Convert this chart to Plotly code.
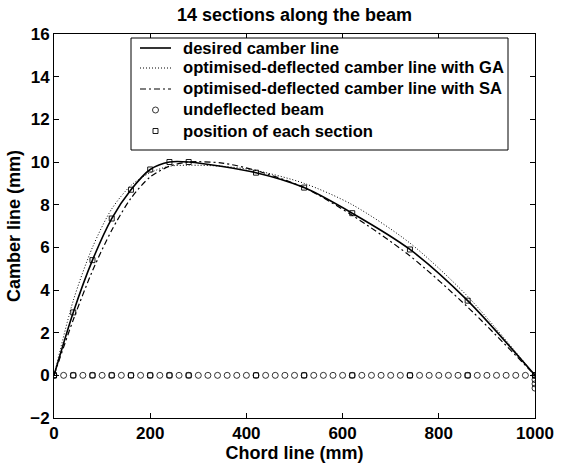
import plotly.graph_objects as go

# Section positions along chord (mm) and desired camber (mm)
section_x = [0, 40, 80, 120, 160, 200, 240, 280, 420, 520, 620, 740, 860, 1000]
desired_y = [0, 2.95, 5.4, 7.35, 8.7, 9.65, 10.0, 10.0, 9.5, 8.8, 7.6, 5.9, 3.5, 0]

# GA optimised curve
ga_x = [0, 40, 80, 120, 160, 200, 240, 280, 350, 420, 520, 620, 740, 860, 1000]
ga_y = [0, 3.5, 6.0, 7.8, 8.9, 9.5, 9.8, 9.85, 9.8, 9.6, 9.0, 8.0, 6.2, 3.7, 0]

# SA optimised curve
sa_x = [0, 40, 80, 120, 160, 200, 240, 280, 350, 420, 520, 620, 740, 860, 1000]
sa_y = [0, 2.6, 4.9, 6.8, 8.3, 9.3, 9.8, 10.0, 9.95, 9.6, 8.8, 7.5, 5.6, 3.2, 0]

# Undeflected beam nodes
beam_x = list(range(0, 1001, 20)) + [1000, 1000, 1000]
beam_y = [0] * 51 + [-0.2, -0.4, -0.6]

legend_labels = ["desired camber line",
                 "optimised-deflected camber line with GA",
                 "optimised-deflected camber line with SA",
                 "undeflected beam",
                 "position of each section"]

FONT = "Liberation Sans"
W, H = 562, 465
ML, MR, MT, MB = 54, 27, 34, 47
PW, PH = W - ML - MR, H - MT - MB

def px2x(px):
    return (px - ML) / PW

def px2y(py):
    return (H - MB - py) / PH

line_desired = dict(color="black", width=1.6, shape="spline", smoothing=0.8)
line_ga = dict(color="black", width=1, dash="1px,2px", shape="spline", smoothing=0.8)
line_sa = dict(color="black", width=1.2, dash="6px,3px,2px,3px", shape="spline", smoothing=0.8)

fig = go.Figure()
fig.add_trace(go.Scatter(x=section_x, y=desired_y, mode="lines", name=legend_labels[0], line=line_desired))
fig.add_trace(go.Scatter(x=ga_x, y=ga_y, mode="lines", name=legend_labels[1], line=line_ga))
fig.add_trace(go.Scatter(x=sa_x, y=sa_y, mode="lines", name=legend_labels[2], line=line_sa))
fig.add_trace(go.Scatter(x=beam_x, y=beam_y, mode="markers", name=legend_labels[3],
                         marker=dict(symbol="circle-open", size=6, color="black", line=dict(width=0.8))))
fig.add_trace(go.Scatter(x=section_x + section_x, y=desired_y + [0] * len(section_x), mode="markers",
                         name=legend_labels[4],
                         marker=dict(symbol="square-open", size=5, color="black", line=dict(width=0.9))))

# Legend box drawn manually (to match compact row spacing)
box_l, box_r, box_t, box_b = 131, 508, 38, 150
fig.add_shape(type="rect", xref="paper", yref="paper",
              x0=px2x(box_l), x1=px2x(box_r), y0=px2y(box_b), y1=px2y(box_t),
              line=dict(color="black", width=1), fillcolor="white", layer="above")
row_y = [48, 68, 89, 110, 131]
samp_l, samp_r, text_x = 140, 171, 181
dashes = ["solid", "1px,2px", "6px,3px,2px,3px"]
widths = [1.6, 1, 1.2]
for i in range(3):
    fig.add_shape(type="line", xref="paper", yref="paper",
                  x0=px2x(samp_l), x1=px2x(samp_r), y0=px2y(row_y[i]), y1=px2y(row_y[i]),
                  line=dict(color="black", width=widths[i], dash=dashes[i]), layer="above")
cx = (samp_l + samp_r) / 2
fig.add_shape(type="circle", xref="paper", yref="paper",
              x0=px2x(cx - 3), x1=px2x(cx + 3), y0=px2y(row_y[3] + 3), y1=px2y(row_y[3] - 3),
              line=dict(color="black", width=0.8), layer="above")
fig.add_shape(type="rect", xref="paper", yref="paper",
              x0=px2x(cx - 2.5), x1=px2x(cx + 2.5), y0=px2y(row_y[4] + 2.5), y1=px2y(row_y[4] - 2.5),
              line=dict(color="black", width=0.9), layer="above")
for i, lab in enumerate(legend_labels):
    fig.add_annotation(text=lab, xref="paper", yref="paper", x=px2x(text_x), y=px2y(row_y[i]),
                       xanchor="left", yanchor="middle", showarrow=False,
                       font=dict(family=FONT, size=16.6, color="black", weight="bold"))

axis_common = dict(showgrid=False, zeroline=False, showline=True, linecolor="black", linewidth=1,
                   mirror="ticks", ticks="inside", ticklen=5, tickcolor="black", automargin=False,
                   tickfont=dict(family=FONT, size=17, color="black", weight="bold"))

fig.update_layout(
    width=W, height=H,
    margin=dict(l=ML, r=MR, t=MT, b=MB, autoexpand=False),
    paper_bgcolor="white", plot_bgcolor="white",
    showlegend=False,
    title=dict(text="14 sections along the beam", x=0.5, xref="paper", y=0.968, yanchor="middle",
               font=dict(family=FONT, size=18, color="black", weight="bold")),
    xaxis=dict(range=[0, 1000], tickvals=[0, 200, 400, 600, 800, 1000],
               title=dict(text="Chord line (mm)", standoff=3,
                          font=dict(family=FONT, size=18, color="black", weight="bold")),
               **axis_common),
    yaxis=dict(range=[-2, 16], tickvals=[-2, 0, 2, 4, 6, 8, 10, 12, 14, 16],
               title=dict(text="Camber line (mm)", standoff=4,
                          font=dict(family=FONT, size=18, color="black", weight="bold")),
               **axis_common),
)

fig.write_html("out.html")
